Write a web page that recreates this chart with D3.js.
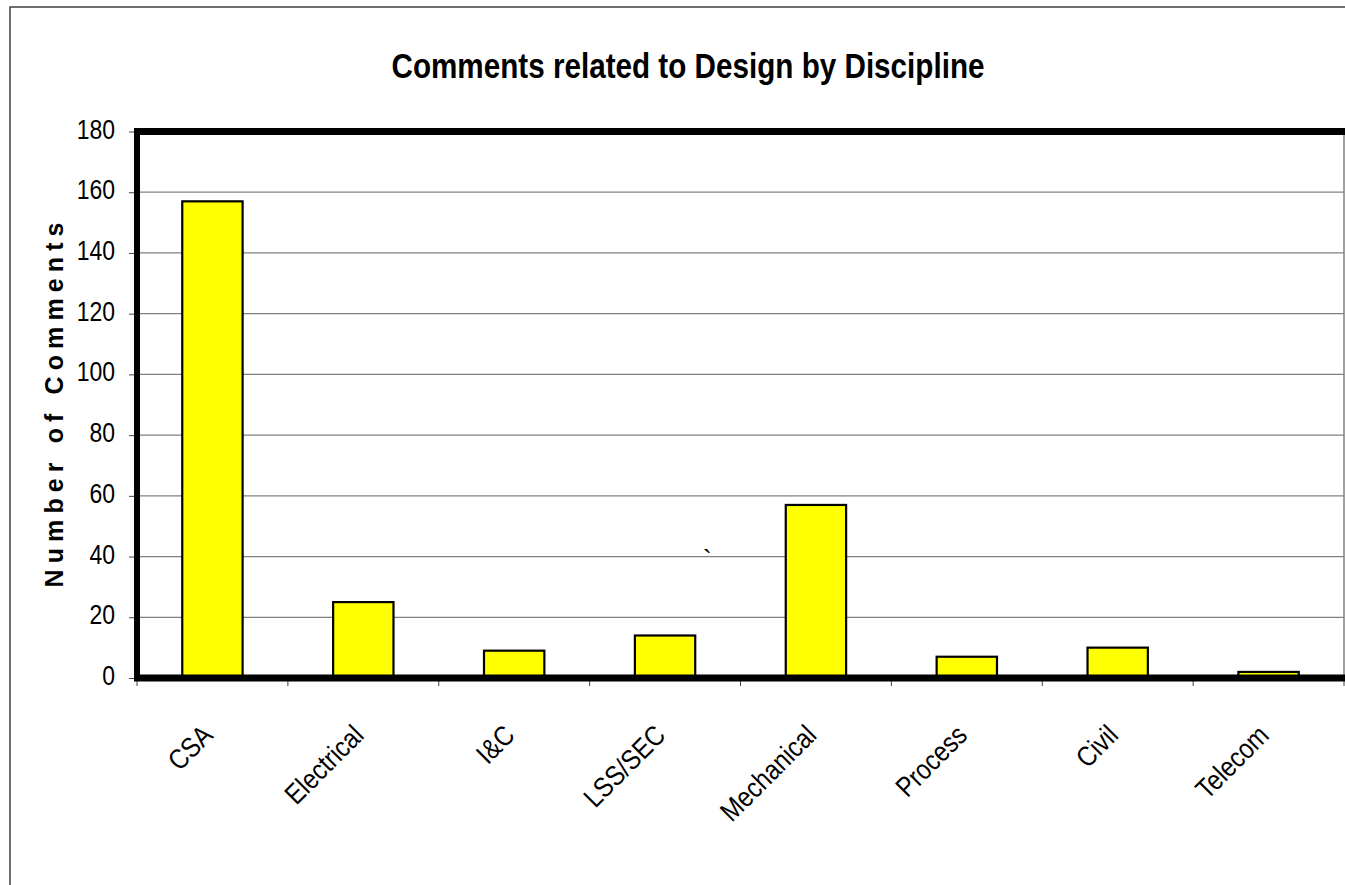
<!DOCTYPE html>
<html>
<head>
<meta charset="utf-8">
<script src="https://cdn.jsdelivr.net/npm/d3@7"></script>
<style>
body{margin:0;background:#fff;}
text{font-family:"Liberation Sans Narrow","Arial Narrow","Liberation Sans",Arial,sans-serif;}
</style>
</head>
<body>
<svg id="uno"></svg>
<script>
let disciplinas=["CSA","Electrical","I&C","LSS/SEC","Mechanical","Process","Civil","Telecom"];
let comentarios=[157,25,9,14,57,7,10,2];
let ticksY=[0,20,40,60,80,100,120,140,160,180];

let misvg=d3.select("#uno")
.attr("width",1345)
.attr("height",885)

// marco exterior
misvg.append("rect")
.attr("x",10).attr("y",7)
.attr("width",1345).attr("height",900)
.attr("fill","white")
.attr("stroke","#404040")
.attr("stroke-width",1.5)

let x=d3.scaleBand().domain(disciplinas).range([137,1344]).paddingInner(0.6).paddingOuter(0.3)
let xb=d3.scaleBand().domain(disciplinas).range([137,1344])
let y=d3.scaleLinear().domain([0,180]).range([678,131.5])

// rejilla
misvg.selectAll(".grid")
.data(ticksY.slice(1))
.enter()
.append("line")
.attr("x1",137).attr("x2",1344)
.attr("y1",d=>y(d)).attr("y2",d=>y(d))
.attr("stroke","#808080")
.attr("stroke-width",1.3)

misvg.append("line")
.attr("x1",1344).attr("x2",1344)
.attr("y1",y(180)).attr("y2",y(0))
.attr("stroke","#808080").attr("stroke-width",1.5)

// eje y
let ejeY=misvg.append("g")
.attr("transform","translate(137,0)")
.call(d3.axisLeft(y).tickValues(ticksY).tickSize(8).tickFormat(""))
ejeY.select(".domain").remove()
ejeY.selectAll("line").attr("stroke","#404040")

misvg.selectAll(".ylab")
.data(ticksY)
.enter()
.append("text")
.attr("transform",d=>"translate(115,"+(y(d)-3)+") scale(0.82,1)")
.attr("text-anchor","end")
.attr("dy","0.36em")
.attr("font-size",28)
.text(d=>d)

// eje x ticks
let ejeX=misvg.append("g")
.attr("transform","translate(0,"+y(0)+")")
ejeX.selectAll("line")
.data(disciplinas.concat(["fin"]))
.enter()
.append("line")
.attr("x1",(d,i)=>137+i*xb.step()).attr("x2",(d,i)=>137+i*xb.step())
.attr("y1",0).attr("y2",8)
.attr("stroke","#404040")

// barras
misvg.selectAll(".bar")
.data(comentarios)
.enter()
.append("rect")
.attr("x",(d,i)=>x(disciplinas[i]))
.attr("y",d=>y(d))
.attr("width",x.bandwidth())
.attr("height",d=>y(0)-y(d))
.attr("fill","#ffff00")
.attr("stroke","black")
.attr("stroke-width",2.2)

// bordes gruesos
misvg.append("line").attr("x1",134).attr("x2",1345).attr("y1",131.5).attr("y2",131.5).attr("stroke","black").attr("stroke-width",7)
misvg.append("line").attr("x1",137).attr("x2",137).attr("y1",128).attr("y2",681).attr("stroke","black").attr("stroke-width",6)
misvg.append("line").attr("x1",134).attr("x2",1345).attr("y1",678).attr("y2",678).attr("stroke","black").attr("stroke-width",7)

// etiquetas x
misvg.selectAll(".lab")
.data(disciplinas)
.enter()
.append("text")
.attr("transform",d=>"translate("+(xb(d)+xb.bandwidth()/2+2)+",737) rotate(-45) scale(0.86,1)")
.attr("text-anchor","end")
.attr("font-size",28)
.text(d=>d)

// titulo
misvg.append("text")
.attr("x",688).attr("y",78)
.attr("text-anchor","middle")
.attr("font-size",35)
.attr("font-weight","bold")
.attr("textLength",593)
.attr("lengthAdjust","spacingAndGlyphs")
.text("Comments related to Design by Discipline")

misvg.append("text")
.attr("transform","translate(63,405) rotate(-90)")
.attr("text-anchor","middle")
.attr("font-size",25)
.attr("font-weight","bold")
.attr("textLength",365)
.attr("lengthAdjust","spacing")
.text("Number of Comments")

misvg.append("text")
.attr("x",703).attr("y",568)
.attr("font-size",26)
.text("`")
</script>
</body>
</html>
